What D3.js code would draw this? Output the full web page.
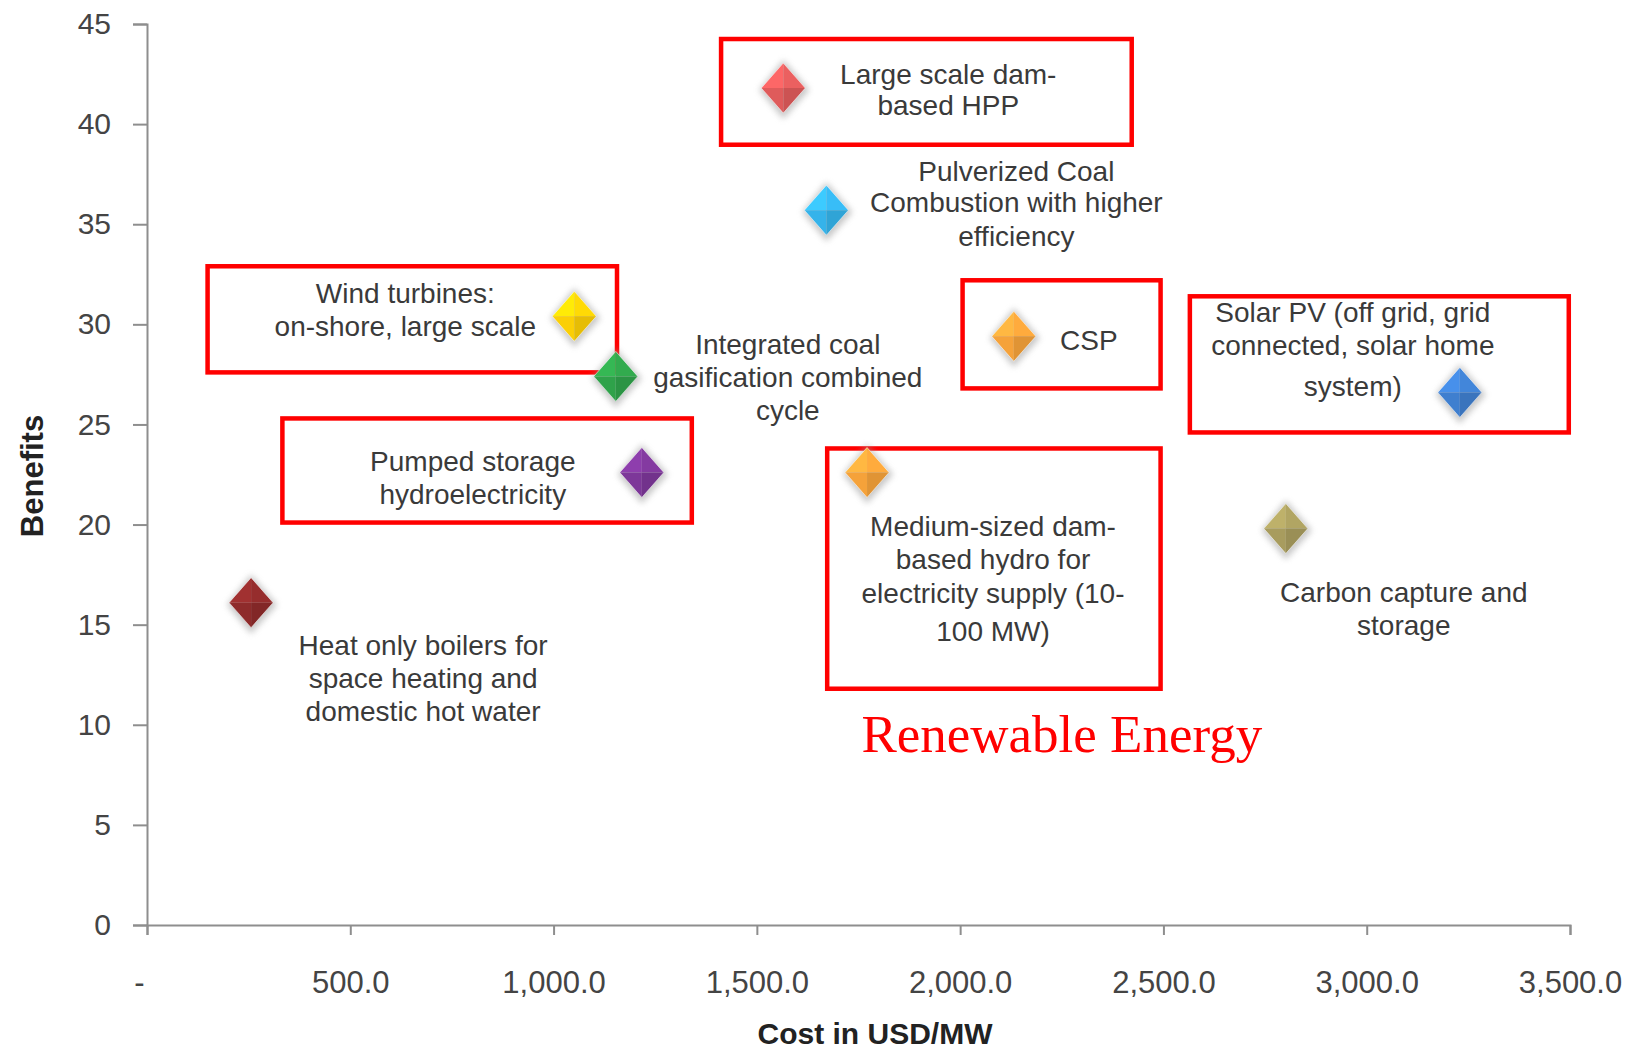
<!DOCTYPE html>
<html><head><meta charset="utf-8">
<script src="https://cdn.jsdelivr.net/npm/d3@7"></script>
<style>
html,body{margin:0;padding:0;background:#fff;}
svg{display:block;}
</style></head>
<body>
<script>
// ---- data ----
const technologies = [
  "Large scale dam-based HPP",
  "Pulverized Coal Combustion with higher efficiency",
  "Wind turbines: on-shore, large scale",
  "Integrated coal gasification combined cycle",
  "CSP",
  "Solar PV (off grid, grid connected, solar home system)",
  "Pumped storage hydroelectricity",
  "Medium-sized dam-based hydro for electricity supply (10-100 MW)",
  "Carbon capture and storage",
  "Heat only boilers for space heating and domestic hot water"
];
const costUSDperMW = [1565, 1671, 1051, 1153, 2132, 3229, 1217, 1771, 2801, 256];
const benefits     = [41.8, 35.7, 30.4, 27.4, 29.4, 26.6, 22.6, 22.6, 19.8, 16.1];
const labelLines = [
  ["Large scale dam-", "based HPP"],
  ["Pulverized Coal", "Combustion with higher", "efficiency"],
  ["Wind turbines:", "on-shore, large scale"],
  ["Integrated coal", "gasification combined", "cycle"],
  ["CSP"],
  ["Solar PV (off grid, grid", "connected, solar  home", "system)"],
  ["Pumped storage", "hydroelectricity"],
  ["Medium-sized dam-", "based hydro for", "electricity supply (10-", "100 MW)"],
  ["Carbon capture and", "storage"],
  ["Heat only boilers for", "space heating and", "domestic hot water"]
];
const xTicks = [0, 500, 1000, 1500, 2000, 2500, 3000, 3500];
const yTicks = [0, 5, 10, 15, 20, 25, 30, 35, 40, 45];
// highlighted (renewable) groups: [x0, x1, yTop, yBottom] in data units
const boxX0 = [1412, 149, 333, 2006, 2565, 1673];
const boxX1 = [2422, 1156, 1340, 2493, 3497, 2493];
const boxYTop = [44.25, 32.9, 25.3, 32.2, 31.4, 23.8];
const boxYBot = [38.97, 27.6, 20.1, 26.8, 24.6, 11.8];
const annotationText = "Renewable Energy";

// ---- styling / layout (not data) ----
const markerColors = ["#df5b5b", "#35b3ea", "#fbcf05", "#2fa24a", "#f5a23a", "#3f7fcf", "#7d3799", "#f5a23a", "#a89c5e", "#8e2b2b"];
// label offsets relative to marker (px): dx, dy of first line, line dys
const labelDx = [165, 190, -169, 172, 75, -107, -169, 126, 118, 172];
const labelDy = [-14, -39, -23, -32, 4, -80, -11, 54, 64, 43];
const labelLineDy = [
  [0, 31], [0, 31, 65], [0, 33], [0, 33, 66], [0], [0, 33, 74], [0, 33], [0, 33, 67, 105], [0, 33], [0, 33, 66]
];

const W = 1634, H = 1053;
const svg = d3.select("body").append("svg").attr("width", W).attr("height", H);

const x = d3.scaleLinear().domain([0, 3500]).range([147, 1570]);
const y = d3.scaleLinear().domain([0, 45]).range([925, 24]);

const defs = svg.append("defs");
const f = defs.append("filter").attr("id", "shadow").attr("x", "-50%").attr("y", "-50%").attr("width", "200%").attr("height", "200%");
f.append("feGaussianBlur").attr("stdDeviation", 3);

// axes
const axisColor = "#8e8e8e";
const gy = svg.append("g").attr("transform", `translate(${x(0)},0)`)
  .call(d3.axisLeft(y).tickValues(yTicks).tickSize(14).tickPadding(22).tickFormat(d3.format("d")));
const gx = svg.append("g").attr("transform", `translate(0,${y(0)})`)
  .call(d3.axisBottom(x).tickValues(xTicks).tickSize(10).tickPadding(36)
    .tickFormat(d => d === 0 ? "-" : d3.format(",.1f")(d)));
[gx, gy].forEach(g => {
  g.select(".domain").attr("stroke", axisColor).attr("stroke-width", 2);
  g.selectAll(".tick line").attr("stroke", axisColor).attr("stroke-width", 2);
  g.selectAll(".tick text").attr("fill", "#444").attr("font-family", "Liberation Sans, Arial, sans-serif");
});
gy.selectAll(".tick text").attr("font-size", 30);
gx.selectAll(".tick text").attr("font-size", 31)
  .attr("dx", d => d === 0 ? -8 : 0);

// axis titles
svg.append("text").attr("x", 875).attr("y", 1044).attr("text-anchor", "middle")
  .attr("font-family", "Liberation Sans, Arial, sans-serif").attr("font-weight", "bold")
  .attr("font-size", 30).attr("fill", "#222").text("Cost in USD/MW");
svg.append("text").attr("transform", "translate(43,476) rotate(-90)").attr("text-anchor", "middle")
  .attr("font-family", "Liberation Sans, Arial, sans-serif").attr("font-weight", "bold")
  .attr("font-size", 31).attr("fill", "#222").text("Benefits");

// red boxes
svg.append("g").selectAll("rect").data(boxX0).join("rect")
  .attr("x", (d, i) => x(boxX0[i])).attr("y", (d, i) => y(boxYTop[i]))
  .attr("width", (d, i) => x(boxX1[i]) - x(boxX0[i]))
  .attr("height", (d, i) => y(boxYBot[i]) - y(boxYTop[i]))
  .attr("fill", "none").attr("stroke", "#ff0000").attr("stroke-width", 4.5);

// markers
const hw = 22, hh = 25;
const pts = technologies.map((t, i) => ({ t, i, cx: x(costUSDperMW[i]), cy: y(benefits[i]) }));
const mg = svg.append("g").selectAll("g").data(pts).join("g")
  .attr("transform", d => `translate(${d.cx},${d.cy})`);
mg.append("path").attr("d", `M0,${-hh - 3}L${hw + 4},2L0,${hh + 6}L${-hw - 2},2Z`)
  .attr("fill", "#9a9a9a").attr("opacity", 0.55).attr("filter", "url(#shadow)");
const facets = [
  { p: `M0,0L0,${-hh}L${-hw},0Z`, k: b => d3.color(b).brighter(0.35) },
  { p: `M0,0L0,${-hh}L${hw},0Z`, k: b => d3.color(b).brighter(0.15) },
  { p: `M0,0L${-hw},0L0,${hh}Z`, k: b => d3.color(b) },
  { p: `M0,0L${hw},0L0,${hh}Z`, k: b => d3.color(b).darker(0.25) }
];
facets.forEach(fc => {
  mg.append("path").attr("d", fc.p).attr("fill", d => fc.k(markerColors[d.i]).formatHex());
});
mg.append("path").attr("d", `M0,${-hh}L${hw},0L0,${hh}L${-hw},0Z`)
  .attr("fill", "none").attr("stroke", "#ffffff").attr("stroke-opacity", 0.5).attr("stroke-width", 1);

// labels
const lg = svg.append("g").attr("font-family", "Liberation Sans, Arial, sans-serif")
  .attr("font-size", 28).attr("fill", "#3a3a3a").attr("text-anchor", "middle");
pts.forEach(d => {
  const t = lg.append("text");
  labelLines[d.i].forEach((ln, j) => {
    t.append("tspan").attr("x", d.cx + labelDx[d.i])
      .attr("y", d.cy + labelDy[d.i] + labelLineDy[d.i][j])
      .attr("dominant-baseline", "central").text(ln);
  });
});

// annotation
svg.append("text").attr("x", x(2250)).attr("y", 752).attr("text-anchor", "middle")
  .attr("font-family", "Liberation Serif, Times New Roman, serif").attr("font-size", 53)
  .attr("fill", "#ff0000").text(annotationText);
</script>
</body></html>
